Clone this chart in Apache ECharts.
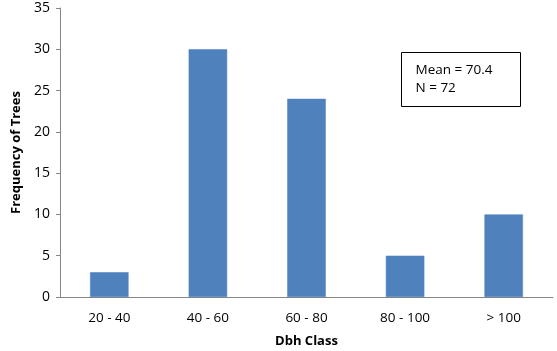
<!DOCTYPE html>
<html>
<head>
<meta charset="utf-8">
<script src="https://cdn.jsdelivr.net/npm/echarts@6/dist/echarts.min.js"></script>
<style>
  html, body { margin: 0; padding: 0; background: #fff; }
  #chart { width: 557px; height: 351px; }
</style>
</head>
<body>
<div id="chart"></div>
<script>
// Dbh classes and tree counts
const categories = ['20 - 40', '40 - 60', '60 - 80', '80 - 100', '> 100'];
const frequency = [3, 30, 24, 5, 10];
const statLines = ['Mean = 70.4', 'N = 72'];

const font = '"Open Sans", "Liberation Sans", sans-serif';
const myChart = echarts.init(document.getElementById('chart'));

myChart.setOption({
  animation: false,
  backgroundColor: '#fff',
  grid: { left: 60, right: 4, top: 8, bottom: 54, containLabel: false, outerBoundsMode: 'none' },
  xAxis: {
    type: 'category',
    data: categories,
    name: 'Dbh Class',
    nameLocation: 'middle',
    nameGap: 38,
    nameTextStyle: { fontFamily: font, fontSize: 13, fontWeight: 'bold', color: '#000' },
    axisLine: { lineStyle: { color: '#868686', width: 1 } },
    axisTick: { show: false },
    axisLabel: { fontFamily: font, fontSize: 13.5, color: '#000', margin: 14 }
  },
  yAxis: {
    type: 'value',
    min: 0,
    max: 35,
    interval: 5,
    name: 'Frequency of Trees',
    nameLocation: 'middle',
    nameGap: 37,
    nameTextStyle: { fontFamily: font, fontSize: 13, fontWeight: 'bold', color: '#000' },
    axisLine: { show: true, lineStyle: { color: '#868686', width: 1 } },
    axisTick: { show: true, length: 4, lineStyle: { color: '#868686' } },
    axisLabel: { fontFamily: font, fontSize: 14, color: '#000', margin: 10 },
    splitLine: { show: false }
  },
  series: [{
    type: 'bar',
    data: frequency,
    barWidth: '39%',
    itemStyle: { color: '#4f81bd', borderColor: '#4a7ebb', borderWidth: 0.5 }
  }],
  graphic: [{
    type: 'group',
    left: 401,
    top: 52,
    children: [
      {
        type: 'rect',
        shape: { x: 0, y: 0, width: 119, height: 54 },
        style: { fill: '#fff', stroke: '#000', lineWidth: 1 }
      },
      {
        type: 'text',
        x: 14, y: 9,
        style: { text: statLines.join('\n'), fontFamily: font, fontSize: 13.5, lineHeight: 18, fill: '#000' }
      }
    ]
  }]
});
</script>
</body>
</html>
